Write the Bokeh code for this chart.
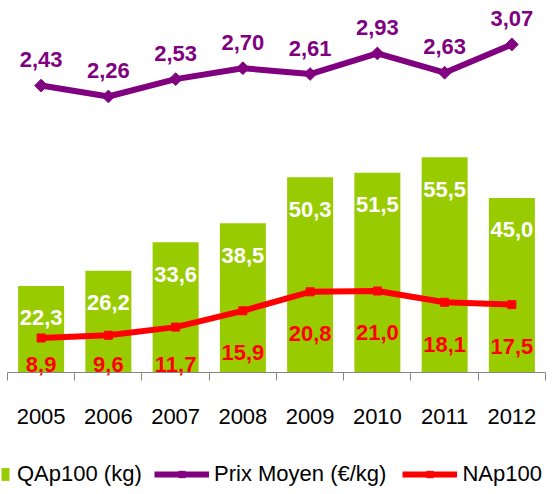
import math
from bokeh.plotting import figure
from bokeh.models import (Range1d, LinearAxis, FixedTicker, Legend, LegendItem,
                          ColumnDataSource)
from bokeh.core.properties import value
from bokeh.embed import file_html
from bokeh.resources import INLINE

# ---- data ----
years = ["2005", "2006", "2007", "2008", "2009", "2010", "2011", "2012"]
qap100 = [22.3, 26.2, 33.6, 38.5, 50.3, 51.5, 55.5, 45.0]      # QAp100 (kg)
prix_moyen = [2.43, 2.26, 2.53, 2.70, 2.61, 2.93, 2.63, 3.07]  # Prix Moyen (€/kg)
nap100 = [8.9, 9.6, 11.7, 15.9, 20.8, 21.0, 18.1, 17.5]        # NAp100 (kg)

GREEN = "#99CC00"
PURPLE = "#800080"
RED = "#FF0000"
AXIS_GREY = "#868686"
FONT = "Liberation Sans"


def fr(v, d):
    return f"{v:.{d}f}".replace(".", ",")


n_cat = len(years)
xs = [i + 0.5 for i in range(n_cat)]
bounds = list(range(n_cat + 1))
src = ColumnDataSource(dict(
    x=xs, q=qap100, p=prix_moyen, n=nap100,
    q_lbl=[fr(v, 1) for v in qap100],
    p_lbl=[fr(v, 2) for v in prix_moyen],
    n_lbl=[fr(v, 1) for v in nap100],
    n_lbl_y=[max(v - 10.8, 2.1) for v in nap100],
))

p = figure(width=549, height=486, output_backend="svg", toolbar_location=None,
           x_range=Range1d(-0.104, 8.0595), y_range=Range1d(-29.38, 95.88),
           x_axis_type=None, y_axis_type=None,
           min_border_left=0, min_border_right=0, min_border_top=0,
           min_border_bottom=0)
p.extra_y_ranges = {"price": Range1d(-3.815, 3.755)}
p.outline_line_color = None
p.background_fill_color = "white"
p.border_fill_color = "white"

# bars
bars = p.vbar(x="x", top="q", bottom=0, width=0.684, source=src,
              fill_color=GREEN, line_color=None)
p.text(x="x", y="q", text="q_lbl", source=src, y_offset=32,
       text_align="center", text_baseline="alphabetic", text_color="white",
       text_font=value(FONT), text_font_style="bold", text_font_size="22px")

# NAp100 line
nline = p.line(x="x", y="n", source=src, line_color=RED, line_width=6)
nmark = p.scatter(x="x", y="n", source=src, marker="square", size=8,
                  fill_color=RED, line_color=RED)
p.text(x="x", y="n_lbl_y", text="n_lbl", source=src,
       text_align="center", text_baseline="alphabetic", text_color=RED,
       text_font=value(FONT), text_font_style="bold", text_font_size="22px")

# Prix moyen line
pline = p.line(x="x", y="p", source=src, y_range_name="price",
               line_color=PURPLE, line_width=6)
pmark = p.scatter(x="x", y="p", source=src, y_range_name="price",
                  marker="square", angle=math.pi / 4, size=9,
                  fill_color=PURPLE, line_color=PURPLE)
p.text(x="x", y="p", text="p_lbl", source=src, y_range_name="price",
       y_offset=-26, text_align="center", text_baseline="alphabetic",
       text_color=PURPLE, text_font=value(FONT), text_font_style="bold",
       text_font_size="22px")

# category axis at y = 0: tick marks between categories, labels centred
xaxis = LinearAxis(ticker=FixedTicker(ticks=xs, minor_ticks=bounds),
                   fixed_location=0, bounds=(0, n_cat),
                   major_label_overrides={x: y for x, y in zip(xs, years)},
                   axis_line_color=AXIS_GREY, axis_line_width=1,
                   major_tick_line_color=None, major_tick_out=0, major_tick_in=0,
                   minor_tick_line_color=AXIS_GREY, minor_tick_out=8,
                   minor_tick_in=0,
                   major_label_standoff=28,
                   major_label_text_font_size="22px",
                   major_label_text_font=FONT,
                   major_label_text_color="black")
p.add_layout(xaxis, "below")

legend_style = dict(orientation="horizontal", padding=0, margin=0,
                    border_line_color=None, background_fill_alpha=0,
                    label_text_font_size="22px", label_text_font=FONT,
                    label_text_color="black", glyph_height=16)
legA = Legend(items=[LegendItem(label="QAp100 (kg)", renderers=[bars])],
              location=(0, -1), glyph_width=10, label_standoff=7,
              **legend_style)
legB = Legend(items=[LegendItem(label="Prix Moyen (€/kg)", renderers=[pline, pmark]),
                     LegendItem(label="NAp100 (kg)", renderers=[nline, nmark])],
              location=(154, -1), glyph_width=55, label_standoff=5,
              spacing=16, **legend_style)
p.add_layout(legA)
p.add_layout(legB)

open("out.html", "w").write(file_html(p, INLINE))
